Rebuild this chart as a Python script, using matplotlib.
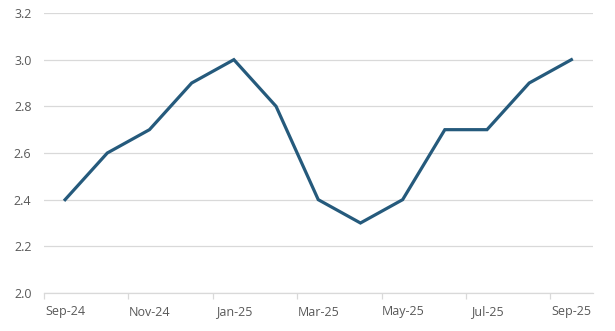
import numpy as np
import matplotlib.pyplot as plt

months = ['Sep-24', 'Oct-24', 'Nov-24', 'Dec-24', 'Jan-25', 'Feb-25', 'Mar-25',
          'Apr-25', 'May-25', 'Jun-25', 'Jul-25', 'Aug-25', 'Sep-25']
values = [2.4, 2.6, 2.7, 2.9, 3.0, 2.8, 2.4, 2.3, 2.4, 2.7, 2.7, 2.9, 3.0]

plt.rcParams['font.family'] = ['Open Sans', 'DejaVu Sans']

fig = plt.figure(figsize=(6.15, 3.31), dpi=100)
ax = fig.add_axes([44 / 615, 1 - 293 / 331, (592.5 - 44) / 615, (293 - 13) / 331])

x = np.arange(len(months))
ax.plot(x, values, color='#255A7C', linewidth=2.3, solid_joinstyle='miter')

ax.set_xlim(-0.5, len(months) - 0.5)
ax.set_ylim(2.0, 3.2)
ax.set_yticks(np.arange(2.0, 3.21, 0.2))
ax.set_yticklabels([f'{v:.1f}' for v in np.arange(2.0, 3.21, 0.2)])
ax.grid(axis='y', color='#D9D9D9', linewidth=0.9)
ax.set_axisbelow(True)

# labels every other month, tick marks at category boundaries
ax.set_xticks(x[::2])
ax.set_xticklabels(months[::2])
ax.set_xticks(np.arange(-0.5, len(months) - 1, 2), minor=True)
ax.tick_params(axis='x', which='major', length=0, pad=9, labelsize=9, labelcolor='#595959')
ax.tick_params(axis='x', which='minor', length=4, width=0.9, color='#D9D9D9')
ax.tick_params(axis='y', length=0, pad=9, labelsize=9, labelcolor='#595959')

for s in ['top', 'right', 'left']:
    ax.spines[s].set_visible(False)
ax.spines['bottom'].set_color('#D9D9D9')
ax.spines['bottom'].set_linewidth(0.9)

fig.savefig('out.png', dpi=100)
